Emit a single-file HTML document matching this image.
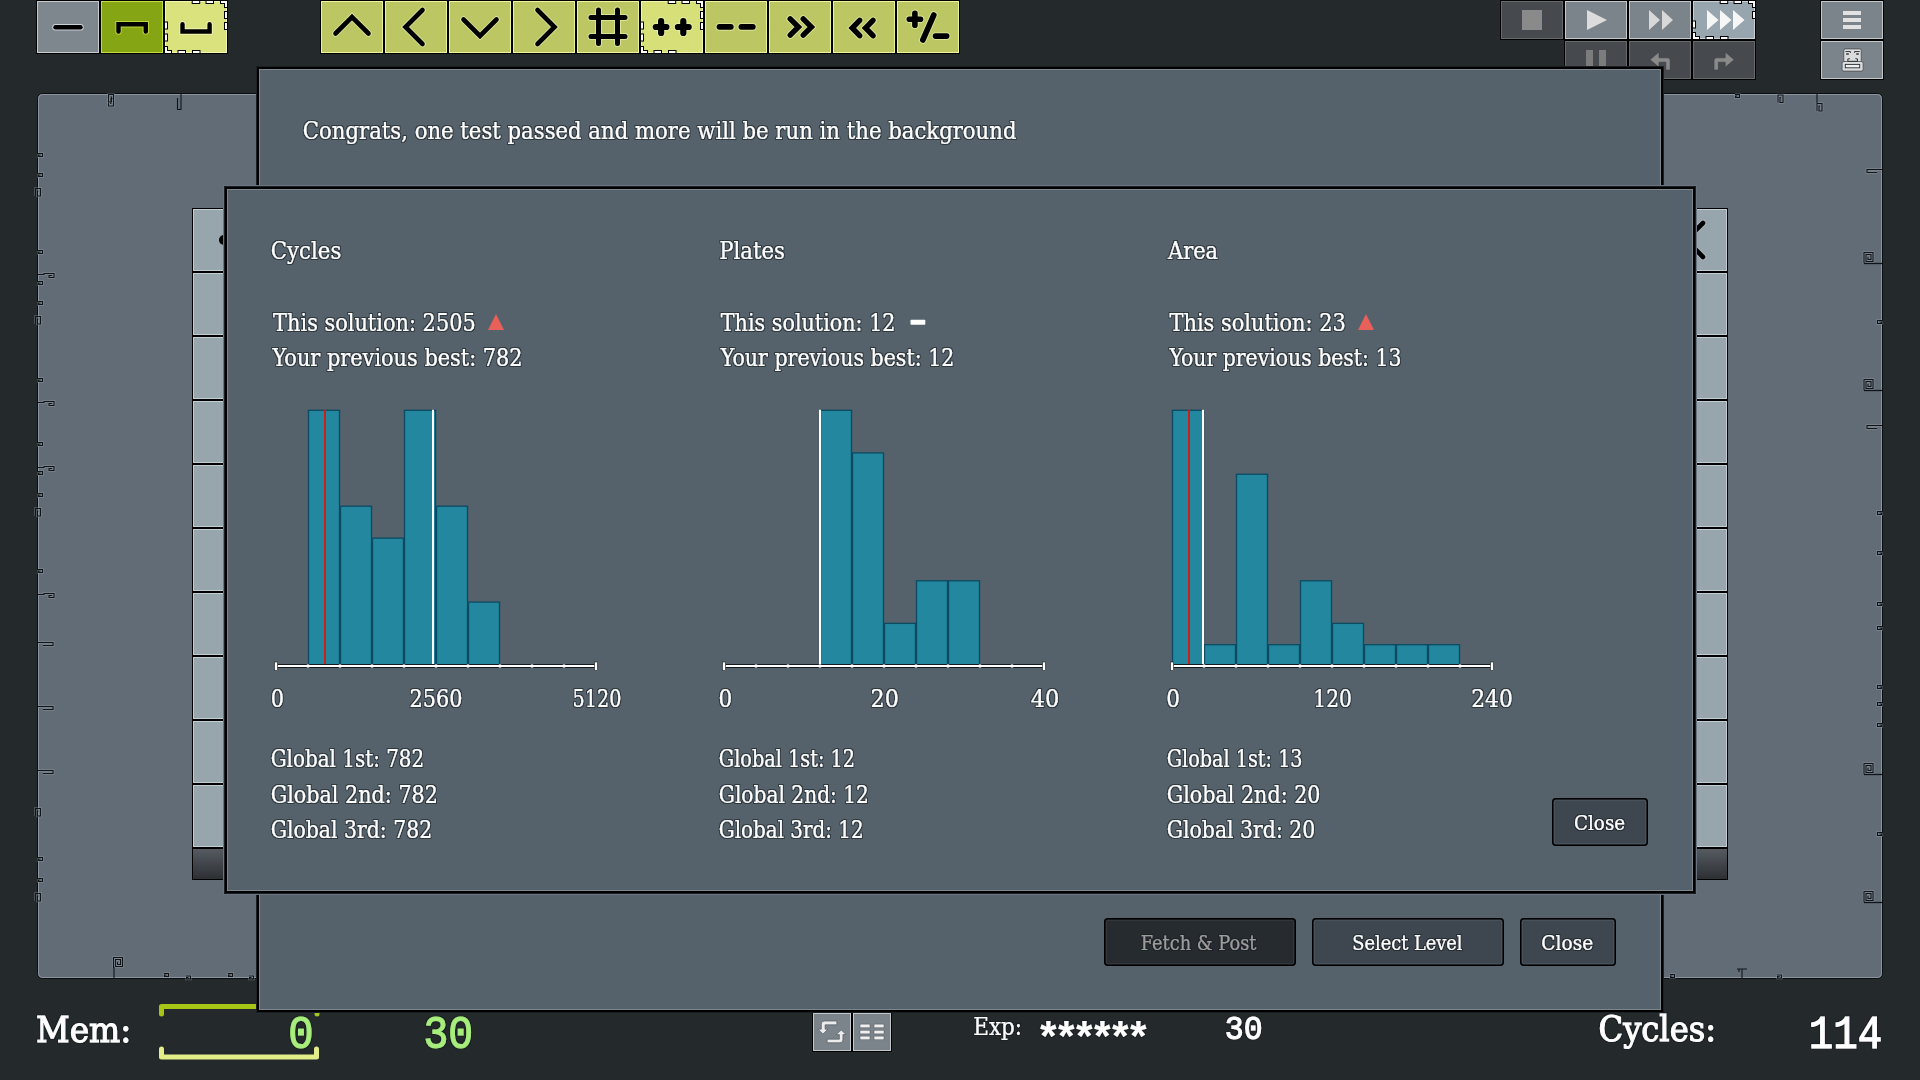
<!DOCTYPE html>
<html><head><meta charset="utf-8"><title>Level Complete</title>
<style>html,body{margin:0;padding:0;background:#24292c;width:1920px;height:1080px;overflow:hidden}</style>
</head><body>
<svg width="1920" height="1080" viewBox="0 0 1920 1080" style="position:absolute;left:0;top:0">
<defs><filter id="ol" x="-5%" y="-30%" width="110%" height="160%"><feMorphology in="SourceAlpha" operator="dilate" radius="1" result="d"/><feFlood flood-color="#161b20" flood-opacity="0.6"/><feComposite in2="d" operator="in"/><feMerge><feMergeNode/><feMergeNode in="SourceGraphic"/></feMerge></filter></defs>
<rect x="0" y="0" width="1920" height="1080" fill="#24292c" />
<rect x="36" y="0" width="64" height="54" fill="#000" />
<rect x="37" y="1" width="62" height="52" fill="#c6cbd0" />
<rect x="38" y="2" width="60" height="50" fill="#7e868e" />
<path d="M55.5 27.2 H80.5" fill="none" stroke="#e0e4e8" stroke-opacity="0.8" stroke-width="6.4" stroke-linecap="round" stroke-linejoin="round"/>
<path d="M55.5 27.2 H80.5" fill="none" stroke="#000" stroke-width="4.4" stroke-linecap="round" stroke-linejoin="round"/>
<rect x="100" y="0" width="64" height="54" fill="#000" />
<rect x="101" y="1" width="62" height="52" fill="#c4dc3c" />
<rect x="102" y="2" width="60" height="50" fill="#86a514" />
<path d="M118.5 31.6 V24.3 H145.8 V31.6" fill="none" stroke="#c8e040" stroke-opacity="0.8" stroke-width="6.4" stroke-linecap="round" stroke-linejoin="miter"/>
<path d="M118.5 31.6 V24.3 H145.8 V31.6" fill="none" stroke="#000" stroke-width="4.4" stroke-linecap="round" stroke-linejoin="miter"/>
<rect x="164" y="0" width="64" height="54" fill="#000" />
<rect x="165" y="1" width="62" height="52" fill="#f4f8b4" />
<rect x="166" y="2" width="60" height="50" fill="#d9e27c" />
<path d="M182.5 24.3 V31.5 H209.6 V24.3" fill="none" stroke="#f4f8c0" stroke-opacity="0.8" stroke-width="6.4" stroke-linecap="round" stroke-linejoin="miter"/>
<path d="M182.5 24.3 V31.5 H209.6 V24.3" fill="none" stroke="#000" stroke-width="4.4" stroke-linecap="round" stroke-linejoin="miter"/>
<rect x="220" y="0" width="8" height="4" fill="#000" />
<rect x="224" y="0" width="4" height="8" fill="#000" />
<rect x="164" y="50" width="8" height="4" fill="#000" />
<rect x="164" y="46" width="4" height="8" fill="#000" />
<rect x="221" y="1" width="6" height="2" fill="#fff" />
<rect x="225" y="1" width="2" height="6" fill="#fff" />
<rect x="165" y="51" width="6" height="2" fill="#fff" />
<rect x="165" y="47" width="2" height="6" fill="#fff" />
<rect x="205.5" y="0" width="8.5" height="4" fill="#000" />
<rect x="206.5" y="1" width="6.5" height="2" fill="#fff" />
<rect x="191.7" y="0" width="8.5" height="4" fill="#000" />
<rect x="192.7" y="1" width="6.5" height="2" fill="#fff" />
<rect x="224" y="11" width="4" height="8" fill="#000" />
<rect x="225" y="12" width="2" height="6" fill="#fff" />
<rect x="224" y="22" width="4" height="8" fill="#000" />
<rect x="225" y="23" width="2" height="6" fill="#fff" />
<rect x="164" y="33.5" width="4" height="8" fill="#000" />
<rect x="165" y="34.5" width="2" height="6" fill="#fff" />
<rect x="164" y="21.5" width="4" height="8" fill="#000" />
<rect x="165" y="22.5" width="2" height="6" fill="#fff" />
<rect x="177.5" y="50" width="8.5" height="4" fill="#000" />
<rect x="178.5" y="51" width="6.5" height="2" fill="#fff" />
<rect x="192" y="50" width="8.5" height="4" fill="#000" />
<rect x="193" y="51" width="6.5" height="2" fill="#fff" />
<rect x="320" y="0" width="64" height="54" fill="#000" />
<rect x="321" y="1" width="62" height="52" fill="#eef39c" />
<rect x="322" y="2" width="60" height="50" fill="#bcc763" />
<rect x="384" y="0" width="64" height="54" fill="#000" />
<rect x="385" y="1" width="62" height="52" fill="#eef39c" />
<rect x="386" y="2" width="60" height="50" fill="#bcc763" />
<rect x="448" y="0" width="64" height="54" fill="#000" />
<rect x="449" y="1" width="62" height="52" fill="#eef39c" />
<rect x="450" y="2" width="60" height="50" fill="#bcc763" />
<rect x="512" y="0" width="64" height="54" fill="#000" />
<rect x="513" y="1" width="62" height="52" fill="#eef39c" />
<rect x="514" y="2" width="60" height="50" fill="#bcc763" />
<rect x="576" y="0" width="64" height="54" fill="#000" />
<rect x="577" y="1" width="62" height="52" fill="#eef39c" />
<rect x="578" y="2" width="60" height="50" fill="#bcc763" />
<rect x="640" y="0" width="64" height="54" fill="#000" />
<rect x="641" y="1" width="62" height="52" fill="#f2f7b0" />
<rect x="642" y="2" width="60" height="50" fill="#d6df78" />
<rect x="704" y="0" width="64" height="54" fill="#000" />
<rect x="705" y="1" width="62" height="52" fill="#eef39c" />
<rect x="706" y="2" width="60" height="50" fill="#bcc763" />
<rect x="768" y="0" width="64" height="54" fill="#000" />
<rect x="769" y="1" width="62" height="52" fill="#eef39c" />
<rect x="770" y="2" width="60" height="50" fill="#bcc763" />
<rect x="832" y="0" width="64" height="54" fill="#000" />
<rect x="833" y="1" width="62" height="52" fill="#eef39c" />
<rect x="834" y="2" width="60" height="50" fill="#bcc763" />
<rect x="896" y="0" width="64" height="54" fill="#000" />
<rect x="897" y="1" width="62" height="52" fill="#eef39c" />
<rect x="898" y="2" width="60" height="50" fill="#bcc763" />
<path d="M335.5 33.5 L352 17 L368.5 33.5" fill="none" stroke="#f4f8c0" stroke-opacity="0.55" stroke-width="6.6" stroke-linecap="round" stroke-linejoin="miter"/>
<path d="M335.5 33.5 L352 17 L368.5 33.5" fill="none" stroke="#000" stroke-width="4.6" stroke-linecap="round" stroke-linejoin="miter"/>
<path d="M422.5 10 L405.5 27 L422.5 44" fill="none" stroke="#f4f8c0" stroke-opacity="0.55" stroke-width="6.6" stroke-linecap="round" stroke-linejoin="miter"/>
<path d="M422.5 10 L405.5 27 L422.5 44" fill="none" stroke="#000" stroke-width="4.6" stroke-linecap="round" stroke-linejoin="miter"/>
<path d="M463.5 19.5 L480 36 L496.5 19.5" fill="none" stroke="#f4f8c0" stroke-opacity="0.55" stroke-width="6.6" stroke-linecap="round" stroke-linejoin="miter"/>
<path d="M463.5 19.5 L480 36 L496.5 19.5" fill="none" stroke="#000" stroke-width="4.6" stroke-linecap="round" stroke-linejoin="miter"/>
<path d="M537.5 10 L554.5 27 L537.5 44" fill="none" stroke="#f4f8c0" stroke-opacity="0.55" stroke-width="6.6" stroke-linecap="round" stroke-linejoin="miter"/>
<path d="M537.5 10 L554.5 27 L537.5 44" fill="none" stroke="#000" stroke-width="4.6" stroke-linecap="round" stroke-linejoin="miter"/>
<path d="M598.5 10 V43.5 M617.5 10 V43.5 M591 17.5 H625 M591 36.5 H625" fill="none" stroke="#f4f8c0" stroke-opacity="0.55" stroke-width="7" stroke-linecap="round" stroke-linejoin="miter"/>
<path d="M598.5 10 V43.5 M617.5 10 V43.5 M591 17.5 H625 M591 36.5 H625" fill="none" stroke="#000" stroke-width="5" stroke-linecap="round" stroke-linejoin="miter"/>
<path d="M655.8 27 H666.4 M661.1 21.2 V32.9 M677.9 27 H688.7 M683.3 21.2 V32.9" fill="none" stroke="#f4f8c0" stroke-opacity="0.55" stroke-width="8.2" stroke-linecap="round" stroke-linejoin="round"/>
<path d="M655.8 27 H666.4 M661.1 21.2 V32.9 M677.9 27 H688.7 M683.3 21.2 V32.9" fill="none" stroke="#000" stroke-width="6.2" stroke-linecap="round" stroke-linejoin="round"/>
<path d="M719.5 26.8 H730.8 M741.4 26.8 H752.8" fill="none" stroke="#f4f8c0" stroke-opacity="0.55" stroke-width="7.8" stroke-linecap="round" stroke-linejoin="miter"/>
<path d="M719.5 26.8 H730.8 M741.4 26.8 H752.8" fill="none" stroke="#000" stroke-width="5.8" stroke-linecap="round" stroke-linejoin="miter"/>
<rect x="696" y="0" width="8" height="4" fill="#000" />
<rect x="700" y="0" width="4" height="8" fill="#000" />
<rect x="640" y="50" width="8" height="4" fill="#000" />
<rect x="640" y="46" width="4" height="8" fill="#000" />
<rect x="697" y="1" width="6" height="2" fill="#fff" />
<rect x="701" y="1" width="2" height="6" fill="#fff" />
<rect x="641" y="51" width="6" height="2" fill="#fff" />
<rect x="641" y="47" width="2" height="6" fill="#fff" />
<rect x="681.5" y="0" width="8.5" height="4" fill="#000" />
<rect x="682.5" y="1" width="6.5" height="2" fill="#fff" />
<rect x="667.7" y="0" width="8.5" height="4" fill="#000" />
<rect x="668.7" y="1" width="6.5" height="2" fill="#fff" />
<rect x="700" y="11" width="4" height="8" fill="#000" />
<rect x="701" y="12" width="2" height="6" fill="#fff" />
<rect x="700" y="22" width="4" height="8" fill="#000" />
<rect x="701" y="23" width="2" height="6" fill="#fff" />
<rect x="640" y="33.5" width="4" height="8" fill="#000" />
<rect x="641" y="34.5" width="2" height="6" fill="#fff" />
<rect x="640" y="21.5" width="4" height="8" fill="#000" />
<rect x="641" y="22.5" width="2" height="6" fill="#fff" />
<rect x="653.5" y="50" width="8.5" height="4" fill="#000" />
<rect x="654.5" y="51" width="6.5" height="2" fill="#fff" />
<rect x="668" y="50" width="8.5" height="4" fill="#000" />
<rect x="669" y="51" width="6.5" height="2" fill="#fff" />
<path d="M790.2 18.8 L798.4 27 L790.2 35.2 M803.2 18.8 L811.4 27 L803.2 35.2" fill="none" stroke="#f4f8c0" stroke-opacity="0.55" stroke-width="7.4" stroke-linecap="round" stroke-linejoin="miter"/>
<path d="M790.2 18.8 L798.4 27 L790.2 35.2 M803.2 18.8 L811.4 27 L803.2 35.2" fill="none" stroke="#000" stroke-width="5.4" stroke-linecap="round" stroke-linejoin="miter"/>
<path d="M859.7 20.3 L852.2 28 L859.7 35.7 M873 20.3 L865.5 28 L873 35.7" fill="none" stroke="#f4f8c0" stroke-opacity="0.55" stroke-width="7.4" stroke-linecap="round" stroke-linejoin="miter"/>
<path d="M859.7 20.3 L852.2 28 L859.7 35.7 M873 20.3 L865.5 28 L873 35.7" fill="none" stroke="#000" stroke-width="5.4" stroke-linecap="round" stroke-linejoin="miter"/>
<path d="M909.3 19.2 H920.5 M914.9 13.3 V25.2 M933.8 15 L922.8 40 M935.5 36.1 H946.7" fill="none" stroke="#f4f8c0" stroke-opacity="0.55" stroke-width="7.6" stroke-linecap="round" stroke-linejoin="round"/>
<path d="M909.3 19.2 H920.5 M914.9 13.3 V25.2 M933.8 15 L922.8 40 M935.5 36.1 H946.7" fill="none" stroke="#000" stroke-width="5.6" stroke-linecap="round" stroke-linejoin="round"/>
<rect x="1500" y="0" width="64" height="40" fill="#000" />
<rect x="1501" y="1" width="62" height="38" fill="#65696d" />
<rect x="1502" y="2" width="60" height="36" fill="#46494d" />
<rect x="1522" y="10" width="20" height="20" fill="#8a8a8a" />
<rect x="1564" y="0" width="64" height="40" fill="#000" />
<rect x="1565" y="1" width="62" height="38" fill="#c3c8cc" />
<rect x="1566" y="2" width="60" height="36" fill="#7b838b" />
<path d="M1587 10 L1607 20 L1587 30 Z" fill="#dcdcdc"/>
<rect x="1628" y="0" width="64" height="40" fill="#000" />
<rect x="1629" y="1" width="62" height="38" fill="#c3c8cc" />
<rect x="1630" y="2" width="60" height="36" fill="#7b838b" />
<path d="M1649 10 L1660 20 L1649 30 Z M1662 10 L1673 20 L1662 30 Z" fill="#d8d8d8"/>
<rect x="1692" y="0" width="64" height="40" fill="#000" />
<rect x="1693" y="1" width="62" height="38" fill="#c9d0d6" />
<rect x="1694" y="2" width="60" height="36" fill="#97a5ae" />
<path d="M1707 10 L1718.5 20 L1707 30 Z M1720 10 L1731.5 20 L1720 30 Z M1733 10 L1744.5 20 L1733 30 Z" fill="#f6f6f6"/>
<rect x="1748" y="0" width="8" height="4" fill="#000" />
<rect x="1752" y="0" width="4" height="8" fill="#000" />
<rect x="1692" y="36" width="8" height="4" fill="#000" />
<rect x="1692" y="32" width="4" height="8" fill="#000" />
<rect x="1749" y="1" width="6" height="2" fill="#fff" />
<rect x="1753" y="1" width="2" height="6" fill="#fff" />
<rect x="1693" y="37" width="6" height="2" fill="#fff" />
<rect x="1693" y="33" width="2" height="6" fill="#fff" />
<rect x="1733.5" y="0" width="8.5" height="4" fill="#000" />
<rect x="1734.5" y="1" width="6.5" height="2" fill="#fff" />
<rect x="1719.7" y="0" width="8.5" height="4" fill="#000" />
<rect x="1720.7" y="1" width="6.5" height="2" fill="#fff" />
<rect x="1752" y="11" width="4" height="8" fill="#000" />
<rect x="1753" y="12" width="2" height="6" fill="#fff" />
<rect x="1692" y="20.5" width="4" height="8" fill="#000" />
<rect x="1693" y="21.5" width="2" height="6" fill="#fff" />
<rect x="1705.5" y="36" width="8.5" height="4" fill="#000" />
<rect x="1706.5" y="37" width="6.5" height="2" fill="#fff" />
<rect x="1720" y="36" width="8.5" height="4" fill="#000" />
<rect x="1721" y="37" width="6.5" height="2" fill="#fff" />
<rect x="1564" y="40" width="64" height="40" fill="#000" />
<rect x="1565" y="41" width="62" height="38" fill="#65696d" />
<rect x="1566" y="42" width="60" height="36" fill="#46494d" />
<rect x="1628" y="40" width="64" height="40" fill="#000" />
<rect x="1629" y="41" width="62" height="38" fill="#65696d" />
<rect x="1630" y="42" width="60" height="36" fill="#46494d" />
<rect x="1692" y="40" width="64" height="40" fill="#000" />
<rect x="1693" y="41" width="62" height="38" fill="#65696d" />
<rect x="1694" y="42" width="60" height="36" fill="#46494d" />
<rect x="1586" y="50" width="7" height="20" fill="#7c7c7c" />
<rect x="1599" y="50" width="7" height="20" fill="#7c7c7c" />
<path d="M1650 59.7 L1659 52 V57.8 H1667.5 Q1670.2 57.8 1670.2 60.5 V70 H1665.8 V62.2 H1659 V67.3 Z" fill="#8a8a8a" stroke="#3a3d40" stroke-width="0.6"/>
<path d="M1734.2 59.7 L1725.2 52 V57.8 H1716.7 Q1714 57.8 1714 60.5 V70 H1718.4 V62.2 H1725.2 V67.3 Z" fill="#8a8a8a" stroke="#3a3d40" stroke-width="0.6"/>
<rect x="1820" y="0" width="64" height="40" fill="#000" />
<rect x="1821" y="1" width="62" height="38" fill="#c3c8cc" />
<rect x="1822" y="2" width="60" height="36" fill="#7b838b" />
<rect x="1843" y="11" width="18" height="4" fill="#e2e2e2" />
<rect x="1843" y="18" width="18" height="4" fill="#e2e2e2" />
<rect x="1843" y="25" width="18" height="4" fill="#e2e2e2" />
<rect x="1820" y="40" width="64" height="40" fill="#000" />
<rect x="1821" y="41" width="62" height="38" fill="#c3c8cc" />
<rect x="1822" y="42" width="60" height="36" fill="#7b838b" />
<rect x="1843.8" y="48.9" width="17.4" height="13.5" rx="1.5" fill="#d9dbdd" stroke="#3c4044" stroke-width="0.7"/>
<rect x="1842.1" y="61.5" width="21" height="9.6" rx="1.8" fill="#d9dbdd" stroke="#3c4044" stroke-width="0.7"/>
<path d="M1845.4 51.5 H1850.4 V52.9 M1859.7 51.5 H1854.6 V52.9" stroke="#2a2d30" stroke-width="0.9" fill="none"/>
<rect x="1846.2" y="53.3" width="2.6" height="1.4" fill="#2a2d30" />
<rect x="1856.2" y="53.3" width="2.6" height="1.4" fill="#2a2d30" />
<path d="M1849.4 58.2 V58.9 H1847.8 V61.3 H1857.5 V58.9 H1855.8 V58.2" stroke="#2a2d30" stroke-width="0.9" fill="none"/>
<rect x="1845.3" y="64.4" width="14.4" height="3.4" fill="#eef0f4" stroke="#2a2d30" stroke-width="0.9"/>
<rect x="37.5" y="93.5" width="1845" height="885" rx="5" fill="#626c77" stroke="#0b0e11" stroke-width="1"/>
<rect x="38.5" y="94.5" width="1843" height="883" rx="4" fill="none" stroke="#8c959f" stroke-width="1"/>
<path d="M0 0.5 H4.5 V3.5 H0.5 V2 H2.5" transform="translate(38 153) rotate(0) scale(1 1)" fill="none" stroke="#9aa3ac" stroke-opacity="0.45" stroke-width="2.6" stroke-linejoin="miter"/>
<path d="M0 0.5 H4.5 V3.5 H0.5 V2 H2.5" transform="translate(38 153) rotate(0) scale(1 1)" fill="none" stroke="#111417" stroke-width="1.1" stroke-linejoin="miter"/>
<path d="M0 0.5 H4.5 V3.5 H0.5 V2 H2.5" transform="translate(38 173) rotate(0) scale(1 1)" fill="none" stroke="#9aa3ac" stroke-opacity="0.45" stroke-width="2.6" stroke-linejoin="miter"/>
<path d="M0 0.5 H4.5 V3.5 H0.5 V2 H2.5" transform="translate(38 173) rotate(0) scale(1 1)" fill="none" stroke="#111417" stroke-width="1.1" stroke-linejoin="miter"/>
<path d="M0 0.5 H4.5 V3.5 H0.5 V2 H2.5" transform="translate(38 250) rotate(0) scale(1 1)" fill="none" stroke="#9aa3ac" stroke-opacity="0.45" stroke-width="2.6" stroke-linejoin="miter"/>
<path d="M0 0.5 H4.5 V3.5 H0.5 V2 H2.5" transform="translate(38 250) rotate(0) scale(1 1)" fill="none" stroke="#111417" stroke-width="1.1" stroke-linejoin="miter"/>
<path d="M0 0.5 H4.5 V3.5 H0.5 V2 H2.5" transform="translate(38 281) rotate(0) scale(1 1)" fill="none" stroke="#9aa3ac" stroke-opacity="0.45" stroke-width="2.6" stroke-linejoin="miter"/>
<path d="M0 0.5 H4.5 V3.5 H0.5 V2 H2.5" transform="translate(38 281) rotate(0) scale(1 1)" fill="none" stroke="#111417" stroke-width="1.1" stroke-linejoin="miter"/>
<path d="M0 0.5 H4.5 V3.5 H0.5 V2 H2.5" transform="translate(38 301) rotate(0) scale(1 1)" fill="none" stroke="#9aa3ac" stroke-opacity="0.45" stroke-width="2.6" stroke-linejoin="miter"/>
<path d="M0 0.5 H4.5 V3.5 H0.5 V2 H2.5" transform="translate(38 301) rotate(0) scale(1 1)" fill="none" stroke="#111417" stroke-width="1.1" stroke-linejoin="miter"/>
<path d="M0 0.5 H4.5 V3.5 H0.5 V2 H2.5" transform="translate(38 378) rotate(0) scale(1 1)" fill="none" stroke="#9aa3ac" stroke-opacity="0.45" stroke-width="2.6" stroke-linejoin="miter"/>
<path d="M0 0.5 H4.5 V3.5 H0.5 V2 H2.5" transform="translate(38 378) rotate(0) scale(1 1)" fill="none" stroke="#111417" stroke-width="1.1" stroke-linejoin="miter"/>
<path d="M0 0.5 H4.5 V3.5 H0.5 V2 H2.5" transform="translate(38 442) rotate(0) scale(1 1)" fill="none" stroke="#9aa3ac" stroke-opacity="0.45" stroke-width="2.6" stroke-linejoin="miter"/>
<path d="M0 0.5 H4.5 V3.5 H0.5 V2 H2.5" transform="translate(38 442) rotate(0) scale(1 1)" fill="none" stroke="#111417" stroke-width="1.1" stroke-linejoin="miter"/>
<path d="M0 0.5 H4.5 V3.5 H0.5 V2 H2.5" transform="translate(38 471) rotate(0) scale(1 1)" fill="none" stroke="#9aa3ac" stroke-opacity="0.45" stroke-width="2.6" stroke-linejoin="miter"/>
<path d="M0 0.5 H4.5 V3.5 H0.5 V2 H2.5" transform="translate(38 471) rotate(0) scale(1 1)" fill="none" stroke="#111417" stroke-width="1.1" stroke-linejoin="miter"/>
<path d="M0 0.5 H4.5 V3.5 H0.5 V2 H2.5" transform="translate(38 493) rotate(0) scale(1 1)" fill="none" stroke="#9aa3ac" stroke-opacity="0.45" stroke-width="2.6" stroke-linejoin="miter"/>
<path d="M0 0.5 H4.5 V3.5 H0.5 V2 H2.5" transform="translate(38 493) rotate(0) scale(1 1)" fill="none" stroke="#111417" stroke-width="1.1" stroke-linejoin="miter"/>
<path d="M0 0.5 H4.5 V3.5 H0.5 V2 H2.5" transform="translate(38 569) rotate(0) scale(1 1)" fill="none" stroke="#9aa3ac" stroke-opacity="0.45" stroke-width="2.6" stroke-linejoin="miter"/>
<path d="M0 0.5 H4.5 V3.5 H0.5 V2 H2.5" transform="translate(38 569) rotate(0) scale(1 1)" fill="none" stroke="#111417" stroke-width="1.1" stroke-linejoin="miter"/>
<path d="M0 0.5 H4.5 V3.5 H0.5 V2 H2.5" transform="translate(38 857) rotate(0) scale(1 1)" fill="none" stroke="#9aa3ac" stroke-opacity="0.45" stroke-width="2.6" stroke-linejoin="miter"/>
<path d="M0 0.5 H4.5 V3.5 H0.5 V2 H2.5" transform="translate(38 857) rotate(0) scale(1 1)" fill="none" stroke="#111417" stroke-width="1.1" stroke-linejoin="miter"/>
<path d="M0 0.5 H4.5 V3.5 H0.5 V2 H2.5" transform="translate(38 878) rotate(0) scale(1 1)" fill="none" stroke="#9aa3ac" stroke-opacity="0.45" stroke-width="2.6" stroke-linejoin="miter"/>
<path d="M0 0.5 H4.5 V3.5 H0.5 V2 H2.5" transform="translate(38 878) rotate(0) scale(1 1)" fill="none" stroke="#111417" stroke-width="1.1" stroke-linejoin="miter"/>
<path d="M0 1.5 H6 V0.5 H16 V4.5 H11 V2.5 H14" transform="translate(38 273) rotate(0) scale(1 1)" fill="none" stroke="#9aa3ac" stroke-opacity="0.45" stroke-width="2.6" stroke-linejoin="miter"/>
<path d="M0 1.5 H6 V0.5 H16 V4.5 H11 V2.5 H14" transform="translate(38 273) rotate(0) scale(1 1)" fill="none" stroke="#111417" stroke-width="1.1" stroke-linejoin="miter"/>
<path d="M0 1.5 H6 V0.5 H16 V4.5 H11 V2.5 H14" transform="translate(38 401) rotate(0) scale(1 1)" fill="none" stroke="#9aa3ac" stroke-opacity="0.45" stroke-width="2.6" stroke-linejoin="miter"/>
<path d="M0 1.5 H6 V0.5 H16 V4.5 H11 V2.5 H14" transform="translate(38 401) rotate(0) scale(1 1)" fill="none" stroke="#111417" stroke-width="1.1" stroke-linejoin="miter"/>
<path d="M0 1.5 H6 V0.5 H16 V4.5 H11 V2.5 H14" transform="translate(38 466) rotate(0) scale(1 1)" fill="none" stroke="#9aa3ac" stroke-opacity="0.45" stroke-width="2.6" stroke-linejoin="miter"/>
<path d="M0 1.5 H6 V0.5 H16 V4.5 H11 V2.5 H14" transform="translate(38 466) rotate(0) scale(1 1)" fill="none" stroke="#111417" stroke-width="1.1" stroke-linejoin="miter"/>
<path d="M0 1.5 H6 V0.5 H16 V4.5 H11 V2.5 H14" transform="translate(38 593) rotate(0) scale(1 1)" fill="none" stroke="#9aa3ac" stroke-opacity="0.45" stroke-width="2.6" stroke-linejoin="miter"/>
<path d="M0 1.5 H6 V0.5 H16 V4.5 H11 V2.5 H14" transform="translate(38 593) rotate(0) scale(1 1)" fill="none" stroke="#111417" stroke-width="1.1" stroke-linejoin="miter"/>
<path d="M0 0.5 H15 V3.5 H5" transform="translate(38 642) rotate(0) scale(1 1)" fill="none" stroke="#9aa3ac" stroke-opacity="0.45" stroke-width="2.6" stroke-linejoin="miter"/>
<path d="M0 0.5 H15 V3.5 H5" transform="translate(38 642) rotate(0) scale(1 1)" fill="none" stroke="#111417" stroke-width="1.1" stroke-linejoin="miter"/>
<path d="M0 0.5 H15 V3.5 H5" transform="translate(38 706) rotate(0) scale(1 1)" fill="none" stroke="#9aa3ac" stroke-opacity="0.45" stroke-width="2.6" stroke-linejoin="miter"/>
<path d="M0 0.5 H15 V3.5 H5" transform="translate(38 706) rotate(0) scale(1 1)" fill="none" stroke="#111417" stroke-width="1.1" stroke-linejoin="miter"/>
<path d="M0 0.5 H15 V3.5 H5" transform="translate(38 770) rotate(0) scale(1 1)" fill="none" stroke="#9aa3ac" stroke-opacity="0.45" stroke-width="2.6" stroke-linejoin="miter"/>
<path d="M0 0.5 H15 V3.5 H5" transform="translate(38 770) rotate(0) scale(1 1)" fill="none" stroke="#111417" stroke-width="1.1" stroke-linejoin="miter"/>
<path d="M0 8 V0.5 H5 V8 H2 V3 H3" transform="translate(35.5 188) rotate(0) scale(1 1)" fill="none" stroke="#9aa3ac" stroke-opacity="0.45" stroke-width="2.6" stroke-linejoin="miter"/>
<path d="M0 8 V0.5 H5 V8 H2 V3 H3" transform="translate(35.5 188) rotate(0) scale(1 1)" fill="none" stroke="#111417" stroke-width="1.1" stroke-linejoin="miter"/>
<path d="M0 8 V0.5 H5 V8 H2 V3 H3" transform="translate(35.5 316) rotate(0) scale(1 1)" fill="none" stroke="#9aa3ac" stroke-opacity="0.45" stroke-width="2.6" stroke-linejoin="miter"/>
<path d="M0 8 V0.5 H5 V8 H2 V3 H3" transform="translate(35.5 316) rotate(0) scale(1 1)" fill="none" stroke="#111417" stroke-width="1.1" stroke-linejoin="miter"/>
<path d="M0 8 V0.5 H5 V8 H2 V3 H3" transform="translate(35.5 508) rotate(0) scale(1 1)" fill="none" stroke="#9aa3ac" stroke-opacity="0.45" stroke-width="2.6" stroke-linejoin="miter"/>
<path d="M0 8 V0.5 H5 V8 H2 V3 H3" transform="translate(35.5 508) rotate(0) scale(1 1)" fill="none" stroke="#111417" stroke-width="1.1" stroke-linejoin="miter"/>
<path d="M0 8 V0.5 H5 V8 H2 V3 H3" transform="translate(35.5 808) rotate(0) scale(1 1)" fill="none" stroke="#9aa3ac" stroke-opacity="0.45" stroke-width="2.6" stroke-linejoin="miter"/>
<path d="M0 8 V0.5 H5 V8 H2 V3 H3" transform="translate(35.5 808) rotate(0) scale(1 1)" fill="none" stroke="#111417" stroke-width="1.1" stroke-linejoin="miter"/>
<path d="M0 8 V0.5 H5 V8 H2 V3 H3" transform="translate(35.5 893) rotate(0) scale(1 1)" fill="none" stroke="#9aa3ac" stroke-opacity="0.45" stroke-width="2.6" stroke-linejoin="miter"/>
<path d="M0 8 V0.5 H5 V8 H2 V3 H3" transform="translate(35.5 893) rotate(0) scale(1 1)" fill="none" stroke="#111417" stroke-width="1.1" stroke-linejoin="miter"/>
<path d="M0 0.5 H4.5 V3.5 H0.5 V2 H2.5" transform="translate(1882 320) rotate(0) scale(-1 1)" fill="none" stroke="#9aa3ac" stroke-opacity="0.45" stroke-width="2.6" stroke-linejoin="miter"/>
<path d="M0 0.5 H4.5 V3.5 H0.5 V2 H2.5" transform="translate(1882 320) rotate(0) scale(-1 1)" fill="none" stroke="#111417" stroke-width="1.1" stroke-linejoin="miter"/>
<path d="M0 0.5 H4.5 V3.5 H0.5 V2 H2.5" transform="translate(1882 511) rotate(0) scale(-1 1)" fill="none" stroke="#9aa3ac" stroke-opacity="0.45" stroke-width="2.6" stroke-linejoin="miter"/>
<path d="M0 0.5 H4.5 V3.5 H0.5 V2 H2.5" transform="translate(1882 511) rotate(0) scale(-1 1)" fill="none" stroke="#111417" stroke-width="1.1" stroke-linejoin="miter"/>
<path d="M0 0.5 H4.5 V3.5 H0.5 V2 H2.5" transform="translate(1882 551) rotate(0) scale(-1 1)" fill="none" stroke="#9aa3ac" stroke-opacity="0.45" stroke-width="2.6" stroke-linejoin="miter"/>
<path d="M0 0.5 H4.5 V3.5 H0.5 V2 H2.5" transform="translate(1882 551) rotate(0) scale(-1 1)" fill="none" stroke="#111417" stroke-width="1.1" stroke-linejoin="miter"/>
<path d="M0 0.5 H4.5 V3.5 H0.5 V2 H2.5" transform="translate(1882 602) rotate(0) scale(-1 1)" fill="none" stroke="#9aa3ac" stroke-opacity="0.45" stroke-width="2.6" stroke-linejoin="miter"/>
<path d="M0 0.5 H4.5 V3.5 H0.5 V2 H2.5" transform="translate(1882 602) rotate(0) scale(-1 1)" fill="none" stroke="#111417" stroke-width="1.1" stroke-linejoin="miter"/>
<path d="M0 0.5 H4.5 V3.5 H0.5 V2 H2.5" transform="translate(1882 626) rotate(0) scale(-1 1)" fill="none" stroke="#9aa3ac" stroke-opacity="0.45" stroke-width="2.6" stroke-linejoin="miter"/>
<path d="M0 0.5 H4.5 V3.5 H0.5 V2 H2.5" transform="translate(1882 626) rotate(0) scale(-1 1)" fill="none" stroke="#111417" stroke-width="1.1" stroke-linejoin="miter"/>
<path d="M0 0.5 H4.5 V3.5 H0.5 V2 H2.5" transform="translate(1882 685) rotate(0) scale(-1 1)" fill="none" stroke="#9aa3ac" stroke-opacity="0.45" stroke-width="2.6" stroke-linejoin="miter"/>
<path d="M0 0.5 H4.5 V3.5 H0.5 V2 H2.5" transform="translate(1882 685) rotate(0) scale(-1 1)" fill="none" stroke="#111417" stroke-width="1.1" stroke-linejoin="miter"/>
<path d="M0 0.5 H4.5 V3.5 H0.5 V2 H2.5" transform="translate(1882 702) rotate(0) scale(-1 1)" fill="none" stroke="#9aa3ac" stroke-opacity="0.45" stroke-width="2.6" stroke-linejoin="miter"/>
<path d="M0 0.5 H4.5 V3.5 H0.5 V2 H2.5" transform="translate(1882 702) rotate(0) scale(-1 1)" fill="none" stroke="#111417" stroke-width="1.1" stroke-linejoin="miter"/>
<path d="M0 0.5 H4.5 V3.5 H0.5 V2 H2.5" transform="translate(1882 723) rotate(0) scale(-1 1)" fill="none" stroke="#9aa3ac" stroke-opacity="0.45" stroke-width="2.6" stroke-linejoin="miter"/>
<path d="M0 0.5 H4.5 V3.5 H0.5 V2 H2.5" transform="translate(1882 723) rotate(0) scale(-1 1)" fill="none" stroke="#111417" stroke-width="1.1" stroke-linejoin="miter"/>
<path d="M0 0.5 H4.5 V3.5 H0.5 V2 H2.5" transform="translate(1882 832) rotate(0) scale(-1 1)" fill="none" stroke="#9aa3ac" stroke-opacity="0.45" stroke-width="2.6" stroke-linejoin="miter"/>
<path d="M0 0.5 H4.5 V3.5 H0.5 V2 H2.5" transform="translate(1882 832) rotate(0) scale(-1 1)" fill="none" stroke="#111417" stroke-width="1.1" stroke-linejoin="miter"/>
<path d="M0 0.5 H15 V3.5 H5" transform="translate(1882 169) rotate(0) scale(-1 1)" fill="none" stroke="#9aa3ac" stroke-opacity="0.45" stroke-width="2.6" stroke-linejoin="miter"/>
<path d="M0 0.5 H15 V3.5 H5" transform="translate(1882 169) rotate(0) scale(-1 1)" fill="none" stroke="#111417" stroke-width="1.1" stroke-linejoin="miter"/>
<path d="M0 0.5 H15 V3.5 H5" transform="translate(1882 425) rotate(0) scale(-1 1)" fill="none" stroke="#9aa3ac" stroke-opacity="0.45" stroke-width="2.6" stroke-linejoin="miter"/>
<path d="M0 0.5 H15 V3.5 H5" transform="translate(1882 425) rotate(0) scale(-1 1)" fill="none" stroke="#111417" stroke-width="1.1" stroke-linejoin="miter"/>
<path d="M0.5 11 V0.5 H9.5 V9.5 H2.5 V2.5 H7.5 V7.5 H4.5 V5" transform="translate(1863.5 252) rotate(0) scale(1 1)" fill="none" stroke="#9aa3ac" stroke-opacity="0.45" stroke-width="2.6" stroke-linejoin="miter"/>
<path d="M0.5 11 V0.5 H9.5 V9.5 H2.5 V2.5 H7.5 V7.5 H4.5 V5" transform="translate(1863.5 252) rotate(0) scale(1 1)" fill="none" stroke="#111417" stroke-width="1.1" stroke-linejoin="miter"/>
<path d="M1864 263.5 H1882" stroke="#111417" stroke-width="1.3"/>
<path d="M0.5 11 V0.5 H9.5 V9.5 H2.5 V2.5 H7.5 V7.5 H4.5 V5" transform="translate(1863.5 379) rotate(0) scale(1 1)" fill="none" stroke="#9aa3ac" stroke-opacity="0.45" stroke-width="2.6" stroke-linejoin="miter"/>
<path d="M0.5 11 V0.5 H9.5 V9.5 H2.5 V2.5 H7.5 V7.5 H4.5 V5" transform="translate(1863.5 379) rotate(0) scale(1 1)" fill="none" stroke="#111417" stroke-width="1.1" stroke-linejoin="miter"/>
<path d="M1864 390.5 H1882" stroke="#111417" stroke-width="1.3"/>
<path d="M0.5 11 V0.5 H9.5 V9.5 H2.5 V2.5 H7.5 V7.5 H4.5 V5" transform="translate(1863.5 763) rotate(0) scale(1 1)" fill="none" stroke="#9aa3ac" stroke-opacity="0.45" stroke-width="2.6" stroke-linejoin="miter"/>
<path d="M0.5 11 V0.5 H9.5 V9.5 H2.5 V2.5 H7.5 V7.5 H4.5 V5" transform="translate(1863.5 763) rotate(0) scale(1 1)" fill="none" stroke="#111417" stroke-width="1.1" stroke-linejoin="miter"/>
<path d="M1864 774.5 H1882" stroke="#111417" stroke-width="1.3"/>
<path d="M0.5 11 V0.5 H9.5 V9.5 H2.5 V2.5 H7.5 V7.5 H4.5 V5" transform="translate(1863.5 891) rotate(0) scale(1 1)" fill="none" stroke="#9aa3ac" stroke-opacity="0.45" stroke-width="2.6" stroke-linejoin="miter"/>
<path d="M0.5 11 V0.5 H9.5 V9.5 H2.5 V2.5 H7.5 V7.5 H4.5 V5" transform="translate(1863.5 891) rotate(0) scale(1 1)" fill="none" stroke="#111417" stroke-width="1.1" stroke-linejoin="miter"/>
<path d="M1864 902.5 H1882" stroke="#111417" stroke-width="1.3"/>
<path d="M0 8 V0.5 H5 V8 H2 V3 H3" transform="translate(108.5 106.5) rotate(0) scale(1 -1)" fill="none" stroke="#9aa3ac" stroke-opacity="0.45" stroke-width="2.6" stroke-linejoin="miter"/>
<path d="M0 8 V0.5 H5 V8 H2 V3 H3" transform="translate(108.5 106.5) rotate(0) scale(1 -1)" fill="none" stroke="#111417" stroke-width="1.1" stroke-linejoin="miter"/>
<path d="M0 8 V0.5 H5 V8 H2 V3 H3" transform="translate(113.5 94) rotate(0) scale(-1 1)" fill="none" stroke="#9aa3ac" stroke-opacity="0.45" stroke-width="2.6" stroke-linejoin="miter"/>
<path d="M0 8 V0.5 H5 V8 H2 V3 H3" transform="translate(113.5 94) rotate(0) scale(-1 1)" fill="none" stroke="#111417" stroke-width="1.1" stroke-linejoin="miter"/>
<path d="M181 94 V109.5 H177.5 V98" fill="none" stroke="#111417" stroke-width="1.1"/>
<path d="M0 0.5 H4.5 V3.5 H0.5 V2 H2.5" transform="translate(1735 94) rotate(0) scale(1 1)" fill="none" stroke="#9aa3ac" stroke-opacity="0.45" stroke-width="2.6" stroke-linejoin="miter"/>
<path d="M0 0.5 H4.5 V3.5 H0.5 V2 H2.5" transform="translate(1735 94) rotate(0) scale(1 1)" fill="none" stroke="#111417" stroke-width="1.1" stroke-linejoin="miter"/>
<path d="M0 8 V0.5 H5 V8 H2 V3 H3" transform="translate(1778 94.5) rotate(0) scale(1 1)" fill="none" stroke="#9aa3ac" stroke-opacity="0.45" stroke-width="2.6" stroke-linejoin="miter"/>
<path d="M0 8 V0.5 H5 V8 H2 V3 H3" transform="translate(1778 94.5) rotate(0) scale(1 1)" fill="none" stroke="#111417" stroke-width="1.1" stroke-linejoin="miter"/>
<path d="M0 8 V0.5 H5 V8 H2 V3 H3" transform="translate(1817 103) rotate(0) scale(1 1)" fill="none" stroke="#9aa3ac" stroke-opacity="0.45" stroke-width="2.6" stroke-linejoin="miter"/>
<path d="M0 8 V0.5 H5 V8 H2 V3 H3" transform="translate(1817 103) rotate(0) scale(1 1)" fill="none" stroke="#111417" stroke-width="1.1" stroke-linejoin="miter"/>
<path d="M1817 94 V103" stroke="#111417" stroke-width="1.1"/>
<path d="M0.5 11 V0.5 H9.5 V9.5 H2.5 V2.5 H7.5 V7.5 H4.5 V5" transform="translate(113 957) rotate(0) scale(1 1)" fill="none" stroke="#9aa3ac" stroke-opacity="0.45" stroke-width="2.6" stroke-linejoin="miter"/>
<path d="M0.5 11 V0.5 H9.5 V9.5 H2.5 V2.5 H7.5 V7.5 H4.5 V5" transform="translate(113 957) rotate(0) scale(1 1)" fill="none" stroke="#111417" stroke-width="1.1" stroke-linejoin="miter"/>
<path d="M114 967 V978" stroke="#111417" stroke-width="1.1"/>
<path d="M0 0.5 H4.5 V3.5 H0.5 V2 H2.5" transform="translate(164 973) rotate(0) scale(1 1)" fill="none" stroke="#9aa3ac" stroke-opacity="0.45" stroke-width="2.6" stroke-linejoin="miter"/>
<path d="M0 0.5 H4.5 V3.5 H0.5 V2 H2.5" transform="translate(164 973) rotate(0) scale(1 1)" fill="none" stroke="#111417" stroke-width="1.1" stroke-linejoin="miter"/>
<path d="M0 0.5 H4.5 V3.5 H0.5 V2 H2.5" transform="translate(186 975.5) rotate(0) scale(1 1)" fill="none" stroke="#9aa3ac" stroke-opacity="0.45" stroke-width="2.6" stroke-linejoin="miter"/>
<path d="M0 0.5 H4.5 V3.5 H0.5 V2 H2.5" transform="translate(186 975.5) rotate(0) scale(1 1)" fill="none" stroke="#111417" stroke-width="1.1" stroke-linejoin="miter"/>
<path d="M0 0.5 H4.5 V3.5 H0.5 V2 H2.5" transform="translate(228 973) rotate(0) scale(1 1)" fill="none" stroke="#9aa3ac" stroke-opacity="0.45" stroke-width="2.6" stroke-linejoin="miter"/>
<path d="M0 0.5 H4.5 V3.5 H0.5 V2 H2.5" transform="translate(228 973) rotate(0) scale(1 1)" fill="none" stroke="#111417" stroke-width="1.1" stroke-linejoin="miter"/>
<path d="M0 0.5 H4.5 V3.5 H0.5 V2 H2.5" transform="translate(249 975.5) rotate(0) scale(1 1)" fill="none" stroke="#9aa3ac" stroke-opacity="0.45" stroke-width="2.6" stroke-linejoin="miter"/>
<path d="M0 0.5 H4.5 V3.5 H0.5 V2 H2.5" transform="translate(249 975.5) rotate(0) scale(1 1)" fill="none" stroke="#111417" stroke-width="1.1" stroke-linejoin="miter"/>
<path d="M0 0.5 H4.5 V3.5 H0.5 V2 H2.5" transform="translate(1670 974) rotate(0) scale(1 1)" fill="none" stroke="#9aa3ac" stroke-opacity="0.45" stroke-width="2.6" stroke-linejoin="miter"/>
<path d="M0 0.5 H4.5 V3.5 H0.5 V2 H2.5" transform="translate(1670 974) rotate(0) scale(1 1)" fill="none" stroke="#111417" stroke-width="1.1" stroke-linejoin="miter"/>
<path d="M0 0.5 H4.5 V3.5 H0.5 V2 H2.5" transform="translate(1777 974.5) rotate(0) scale(1 1)" fill="none" stroke="#9aa3ac" stroke-opacity="0.45" stroke-width="2.6" stroke-linejoin="miter"/>
<path d="M0 0.5 H4.5 V3.5 H0.5 V2 H2.5" transform="translate(1777 974.5) rotate(0) scale(1 1)" fill="none" stroke="#111417" stroke-width="1.1" stroke-linejoin="miter"/>
<path d="M1737 969 H1747 M1742 969 V978 M1739 969 V972" fill="none" stroke="#111417" stroke-width="1.1"/>
<rect x="192" y="208" width="66" height="66" fill="#000" />
<rect x="193" y="209" width="64" height="62" fill="#c2ccd2" />
<rect x="194" y="210" width="62" height="60" fill="#97a6ad" />
<rect x="192" y="272" width="66" height="66" fill="#000" />
<rect x="193" y="273" width="64" height="62" fill="#c2ccd2" />
<rect x="194" y="274" width="62" height="60" fill="#97a6ad" />
<rect x="192" y="336" width="66" height="66" fill="#000" />
<rect x="193" y="337" width="64" height="62" fill="#c2ccd2" />
<rect x="194" y="338" width="62" height="60" fill="#97a6ad" />
<rect x="192" y="400" width="66" height="66" fill="#000" />
<rect x="193" y="401" width="64" height="62" fill="#c2ccd2" />
<rect x="194" y="402" width="62" height="60" fill="#97a6ad" />
<rect x="192" y="464" width="66" height="66" fill="#000" />
<rect x="193" y="465" width="64" height="62" fill="#c2ccd2" />
<rect x="194" y="466" width="62" height="60" fill="#97a6ad" />
<rect x="192" y="528" width="66" height="66" fill="#000" />
<rect x="193" y="529" width="64" height="62" fill="#c2ccd2" />
<rect x="194" y="530" width="62" height="60" fill="#97a6ad" />
<rect x="192" y="592" width="66" height="66" fill="#000" />
<rect x="193" y="593" width="64" height="62" fill="#c2ccd2" />
<rect x="194" y="594" width="62" height="60" fill="#97a6ad" />
<rect x="192" y="656" width="66" height="66" fill="#000" />
<rect x="193" y="657" width="64" height="62" fill="#c2ccd2" />
<rect x="194" y="658" width="62" height="60" fill="#97a6ad" />
<rect x="192" y="720" width="66" height="66" fill="#000" />
<rect x="193" y="721" width="64" height="62" fill="#c2ccd2" />
<rect x="194" y="722" width="62" height="60" fill="#97a6ad" />
<rect x="192" y="784" width="66" height="66" fill="#000" />
<rect x="193" y="785" width="64" height="62" fill="#c2ccd2" />
<rect x="194" y="786" width="62" height="60" fill="#97a6ad" />
<defs><linearGradient id="g192" x1="0" y1="0" x2="0" y2="1"><stop offset="0" stop-color="#565b61"/><stop offset="1" stop-color="#2c3035"/></linearGradient></defs>
<rect x="192" y="848" width="66" height="32" fill="#000" />
<rect x="193" y="849" width="64" height="30" fill="url(#g192)" />
<rect x="1662" y="208" width="66" height="66" fill="#000" />
<rect x="1663" y="209" width="64" height="62" fill="#c2ccd2" />
<rect x="1664" y="210" width="62" height="60" fill="#97a6ad" />
<rect x="1662" y="272" width="66" height="66" fill="#000" />
<rect x="1663" y="273" width="64" height="62" fill="#c2ccd2" />
<rect x="1664" y="274" width="62" height="60" fill="#97a6ad" />
<rect x="1662" y="336" width="66" height="66" fill="#000" />
<rect x="1663" y="337" width="64" height="62" fill="#c2ccd2" />
<rect x="1664" y="338" width="62" height="60" fill="#97a6ad" />
<rect x="1662" y="400" width="66" height="66" fill="#000" />
<rect x="1663" y="401" width="64" height="62" fill="#c2ccd2" />
<rect x="1664" y="402" width="62" height="60" fill="#97a6ad" />
<rect x="1662" y="464" width="66" height="66" fill="#000" />
<rect x="1663" y="465" width="64" height="62" fill="#c2ccd2" />
<rect x="1664" y="466" width="62" height="60" fill="#97a6ad" />
<rect x="1662" y="528" width="66" height="66" fill="#000" />
<rect x="1663" y="529" width="64" height="62" fill="#c2ccd2" />
<rect x="1664" y="530" width="62" height="60" fill="#97a6ad" />
<rect x="1662" y="592" width="66" height="66" fill="#000" />
<rect x="1663" y="593" width="64" height="62" fill="#c2ccd2" />
<rect x="1664" y="594" width="62" height="60" fill="#97a6ad" />
<rect x="1662" y="656" width="66" height="66" fill="#000" />
<rect x="1663" y="657" width="64" height="62" fill="#c2ccd2" />
<rect x="1664" y="658" width="62" height="60" fill="#97a6ad" />
<rect x="1662" y="720" width="66" height="66" fill="#000" />
<rect x="1663" y="721" width="64" height="62" fill="#c2ccd2" />
<rect x="1664" y="722" width="62" height="60" fill="#97a6ad" />
<rect x="1662" y="784" width="66" height="66" fill="#000" />
<rect x="1663" y="785" width="64" height="62" fill="#c2ccd2" />
<rect x="1664" y="786" width="62" height="60" fill="#97a6ad" />
<defs><linearGradient id="g1662" x1="0" y1="0" x2="0" y2="1"><stop offset="0" stop-color="#565b61"/><stop offset="1" stop-color="#2c3035"/></linearGradient></defs>
<rect x="1662" y="848" width="66" height="32" fill="#000" />
<rect x="1663" y="849" width="64" height="30" fill="url(#g1662)" />
<circle cx="224" cy="240" r="5" fill="#000"/>
<path d="M1703 223 L1686 240 L1703 257" fill="none" stroke="#c8d0d6" stroke-opacity="0.4" stroke-width="6.6" stroke-linecap="round" stroke-linejoin="miter"/>
<path d="M1703 223 L1686 240 L1703 257" fill="none" stroke="#000" stroke-width="4.6" stroke-linecap="round" stroke-linejoin="miter"/>
<text x="35.98" y="1041.6" font-family="'DejaVu Serif Condensed','DejaVu Serif','Liberation Serif',serif" font-size="36" fill="#fff" textLength="95.43" lengthAdjust="spacingAndGlyphs" stroke="#fff" stroke-width="0.9" filter="url(#ol)">Mem:</text>
<path d="M161.5 1014 V1006.5 H317 V1014" fill="none" stroke="#a6c514" stroke-width="5" stroke-linecap="round" stroke-linejoin="round"/>
<path d="M161.5 1049 V1057 H316.5 V1049" fill="none" stroke="#e4ee88" stroke-width="5" stroke-linecap="round" stroke-linejoin="round"/>
<text x="288.24" y="1047.6" font-family="'Liberation Mono','DejaVu Sans Mono',monospace" font-size="46" fill="#a8ee7c" textLength="25.41" lengthAdjust="spacingAndGlyphs" stroke="#a8ee7c" stroke-width="1.1" filter="url(#ol)">0</text>
<text x="423.4" y="1047.8" font-family="'Liberation Mono','DejaVu Sans Mono',monospace" font-size="46" fill="#a8ee7c" textLength="49.7" lengthAdjust="spacingAndGlyphs" stroke="#a8ee7c" stroke-width="1.1" filter="url(#ol)">30</text>
<rect x="812" y="1012" width="40" height="40" fill="#000" />
<rect x="813" y="1013" width="38" height="38" fill="#c3c8cc" />
<rect x="814" y="1014" width="36" height="36" fill="#7b838b" />
<rect x="852" y="1012" width="40" height="40" fill="#000" />
<rect x="853" y="1013" width="38" height="38" fill="#c3c8cc" />
<rect x="854" y="1014" width="36" height="36" fill="#7b838b" />
<path d="M836.8 1021.1 H824.3 Q821.3 1021.1 821.3 1024.1 V1029.2 H818.1 L822.9 1034 L827.9 1029.2 H825.1 V1024.8 H836.8 Z" fill="#ececec" stroke="#4a5058" stroke-width="0.6"/>
<path d="M827.2 1042.7 H839.9 Q842.9 1042.7 842.9 1039.7 V1034.6 H845.9 L841.3 1030 L836.1 1034.6 H839.4 V1039.2 H827.2 Z" fill="#ececec" stroke="#4a5058" stroke-width="0.6"/>
<rect x="860" y="1024.1" width="10" height="3.7" fill="#efefef" stroke="#50565c" stroke-width="0.5"/>
<rect x="874" y="1024.1" width="10" height="3.7" fill="#efefef" stroke="#50565c" stroke-width="0.5"/>
<rect x="860" y="1030.2" width="10" height="3.7" fill="#efefef" stroke="#50565c" stroke-width="0.5"/>
<rect x="874" y="1030.2" width="10" height="3.7" fill="#efefef" stroke="#50565c" stroke-width="0.5"/>
<rect x="860" y="1036.1" width="10" height="3.7" fill="#efefef" stroke="#50565c" stroke-width="0.5"/>
<rect x="874" y="1036.1" width="10" height="3.7" fill="#efefef" stroke="#50565c" stroke-width="0.5"/>
<text x="973.2" y="1035" font-family="'DejaVu Serif Condensed','DejaVu Serif','Liberation Serif',serif" font-size="24" fill="#fff" textLength="48.82" lengthAdjust="spacingAndGlyphs" stroke="#fff" stroke-width="0.1" filter="url(#ol)">Exp:</text>
<text x="1035.8" y="1051.5" font-family="'Liberation Mono','DejaVu Sans Mono',monospace" font-size="42" font-weight="bold" fill="#fff" letter-spacing="-7.22" filter="url(#ol)">******</text>
<text x="1224.75" y="1039" font-family="'Liberation Mono','DejaVu Sans Mono',monospace" font-size="32.4" fill="#fff" textLength="37.89" lengthAdjust="spacingAndGlyphs" stroke="#fff" stroke-width="0.9" filter="url(#ol)">30</text>
<text x="1598.51" y="1041.3" font-family="'DejaVu Serif Condensed','DejaVu Serif','Liberation Serif',serif" font-size="36" fill="#fff" textLength="117.53" lengthAdjust="spacingAndGlyphs" stroke="#fff" stroke-width="0.9" filter="url(#ol)">Cycles:</text>
<text x="1808.69" y="1047.8" font-family="'Liberation Mono','DejaVu Sans Mono',monospace" font-size="47" fill="#fff" textLength="73.52" lengthAdjust="spacingAndGlyphs" stroke="#fff" stroke-width="1.1" filter="url(#ol)">114</text>
<rect x="256" y="66" width="1408" height="947" fill="#1b1f24" />
<rect x="257" y="67" width="1406" height="945" fill="#000" />
<rect x="259" y="69" width="1402" height="941" fill="#7b868e" />
<rect x="260" y="70" width="1400" height="939" fill="#55626b" />
<text x="302.77" y="138.75" font-family="'DejaVu Serif Condensed','DejaVu Serif','Liberation Serif',serif" font-size="24" fill="#fff" textLength="713.75" lengthAdjust="spacingAndGlyphs" stroke="#fff" stroke-width="0.1" filter="url(#ol)">Congrats, one test passed and more will be run in the background</text>
<rect x="1104.75" y="918.75" width="190.5" height="46.5" rx="3" fill="#262b30" stroke="#000" stroke-width="1.5"/>
<rect x="1106.5" y="920.5" width="187" height="43" rx="1" fill="none" stroke="#ffffff" stroke-opacity="0.06" stroke-width="1"/>
<text x="1140.76" y="950.1" font-family="'DejaVu Serif Condensed','DejaVu Serif','Liberation Serif',serif" font-size="21" fill="#9c9c9c" textLength="115.77" lengthAdjust="spacingAndGlyphs" stroke="#9c9c9c" stroke-width="0.1" filter="url(#ol)">Fetch &amp; Post</text>
<rect x="1312.75" y="918.75" width="190.5" height="46.5" rx="3" fill="#3e4750" stroke="#000" stroke-width="1.5"/>
<rect x="1314.5" y="920.5" width="187" height="43" rx="1" fill="none" stroke="#ffffff" stroke-opacity="0.06" stroke-width="1"/>
<text x="1352.36" y="949.9" font-family="'DejaVu Serif Condensed','DejaVu Serif','Liberation Serif',serif" font-size="21" fill="#fff" textLength="110.16" lengthAdjust="spacingAndGlyphs" stroke="#fff" stroke-width="0.1" filter="url(#ol)">Select Level</text>
<rect x="1520.75" y="918.75" width="94.5" height="46.5" rx="3" fill="#3e4750" stroke="#000" stroke-width="1.5"/>
<rect x="1522.5" y="920.5" width="91" height="43" rx="1" fill="none" stroke="#ffffff" stroke-opacity="0.06" stroke-width="1"/>
<text x="1541.32" y="949.9" font-family="'DejaVu Serif Condensed','DejaVu Serif','Liberation Serif',serif" font-size="21" fill="#fff" textLength="51.92" lengthAdjust="spacingAndGlyphs" stroke="#fff" stroke-width="0.1" filter="url(#ol)">Close</text>
<rect x="223" y="185" width="1474" height="710" fill="#6b7480" />
<rect x="224" y="186" width="1472" height="708" fill="#1b1f24" />
<rect x="225" y="187" width="1470" height="706" fill="#000" />
<rect x="227" y="189" width="1466" height="702" fill="#7b868e" />
<rect x="228" y="190" width="1464" height="700" fill="#55626b" />
<text x="270.81" y="258.7" font-family="'DejaVu Serif Condensed','DejaVu Serif','Liberation Serif',serif" font-size="24" fill="#fff" textLength="70.56" lengthAdjust="spacingAndGlyphs" stroke="#fff" stroke-width="0.1" filter="url(#ol)">Cycles</text>
<text x="273.1" y="331" font-family="'DejaVu Serif Condensed','DejaVu Serif','Liberation Serif',serif" font-size="24" fill="#fff" textLength="202.63" lengthAdjust="spacingAndGlyphs" stroke="#fff" stroke-width="0.1" filter="url(#ol)">This solution: 2505</text>
<text x="272.6" y="366.3" font-family="'DejaVu Serif Condensed','DejaVu Serif','Liberation Serif',serif" font-size="24" fill="#fff" textLength="250.02" lengthAdjust="spacingAndGlyphs" stroke="#fff" stroke-width="0.1" filter="url(#ol)">Your previous best: 782</text>
<text x="270.68" y="767" font-family="'DejaVu Serif Condensed','DejaVu Serif','Liberation Serif',serif" font-size="24" fill="#fff" textLength="153.52" lengthAdjust="spacingAndGlyphs" stroke="#fff" stroke-width="0.1" filter="url(#ol)">Global 1st: 782</text>
<text x="270.64" y="802.6" font-family="'DejaVu Serif Condensed','DejaVu Serif','Liberation Serif',serif" font-size="24" fill="#fff" textLength="167.29" lengthAdjust="spacingAndGlyphs" stroke="#fff" stroke-width="0.1" filter="url(#ol)">Global 2nd: 782</text>
<text x="270.65" y="838.3" font-family="'DejaVu Serif Condensed','DejaVu Serif','Liberation Serif',serif" font-size="24" fill="#fff" textLength="161.56" lengthAdjust="spacingAndGlyphs" stroke="#fff" stroke-width="0.1" filter="url(#ol)">Global 3rd: 782</text>
<rect x="308.5" y="410.30" width="31" height="255.70" fill="#23879f" stroke="#0b4b62" stroke-width="1.3"/>
<rect x="340.5" y="506.19" width="31" height="159.81" fill="#23879f" stroke="#0b4b62" stroke-width="1.3"/>
<rect x="372.5" y="538.15" width="31" height="127.85" fill="#23879f" stroke="#0b4b62" stroke-width="1.3"/>
<rect x="404.5" y="410.30" width="31" height="255.70" fill="#23879f" stroke="#0b4b62" stroke-width="1.3"/>
<rect x="436.5" y="506.19" width="31" height="159.81" fill="#23879f" stroke="#0b4b62" stroke-width="1.3"/>
<rect x="468.5" y="602.08" width="31" height="63.92" fill="#23879f" stroke="#0b4b62" stroke-width="1.3"/>
<line x1="325" y1="409.7" x2="325" y2="665" stroke="#cc1f1a" stroke-width="2"/>
<line x1="433" y1="409.7" x2="433" y2="665" stroke="#fff" stroke-width="2"/>
<line x1="276" y1="666" x2="596" y2="666" stroke="#14191d" stroke-width="4"/>
<line x1="276" y1="666" x2="596" y2="666" stroke="#fff" stroke-width="2"/>
<circle cx="308" cy="666" r="1.8" fill="#fff"/>
<circle cx="340" cy="666" r="1.8" fill="#fff"/>
<circle cx="372" cy="666" r="1.8" fill="#fff"/>
<circle cx="404" cy="666" r="1.8" fill="#fff"/>
<circle cx="436" cy="666" r="1.8" fill="#fff"/>
<circle cx="468" cy="666" r="1.8" fill="#fff"/>
<circle cx="500" cy="666" r="1.8" fill="#fff"/>
<circle cx="532" cy="666" r="1.8" fill="#fff"/>
<circle cx="564" cy="666" r="1.8" fill="#fff"/>
<rect x="274.5" y="662" width="3" height="8.5" fill="#fff" stroke="#14191d" stroke-width="0.6"/>
<rect x="594.5" y="662" width="3" height="8.5" fill="#fff" stroke="#14191d" stroke-width="0.6"/>
<text x="270.73" y="707" font-family="'DejaVu Serif Condensed','DejaVu Serif','Liberation Serif',serif" font-size="24" fill="#fff" textLength="13.28" lengthAdjust="spacingAndGlyphs" stroke="#fff" stroke-width="0.1" filter="url(#ol)">0</text>
<text x="409.54" y="707" font-family="'DejaVu Serif Condensed','DejaVu Serif','Liberation Serif',serif" font-size="24" fill="#fff" textLength="52.97" lengthAdjust="spacingAndGlyphs" stroke="#fff" stroke-width="0.1" filter="url(#ol)">2560</text>
<text x="572.52" y="707" font-family="'DejaVu Serif Condensed','DejaVu Serif','Liberation Serif',serif" font-size="24" fill="#fff" textLength="48.92" lengthAdjust="spacingAndGlyphs" stroke="#fff" stroke-width="0.1" filter="url(#ol)">5120</text>
<text x="719.22" y="258.7" font-family="'DejaVu Serif Condensed','DejaVu Serif','Liberation Serif',serif" font-size="24" fill="#fff" textLength="65.8" lengthAdjust="spacingAndGlyphs" stroke="#fff" stroke-width="0.1" filter="url(#ol)">Plates</text>
<text x="720.8" y="331" font-family="'DejaVu Serif Condensed','DejaVu Serif','Liberation Serif',serif" font-size="24" fill="#fff" textLength="174.72" lengthAdjust="spacingAndGlyphs" stroke="#fff" stroke-width="0.1" filter="url(#ol)">This solution: 12</text>
<text x="720.8" y="366.3" font-family="'DejaVu Serif Condensed','DejaVu Serif','Liberation Serif',serif" font-size="24" fill="#fff" textLength="233.55" lengthAdjust="spacingAndGlyphs" stroke="#fff" stroke-width="0.1" filter="url(#ol)">Your previous best: 12</text>
<text x="718.81" y="767" font-family="'DejaVu Serif Condensed','DejaVu Serif','Liberation Serif',serif" font-size="24" fill="#fff" textLength="136.29" lengthAdjust="spacingAndGlyphs" stroke="#fff" stroke-width="0.1" filter="url(#ol)">Global 1st: 12</text>
<text x="718.77" y="802.6" font-family="'DejaVu Serif Condensed','DejaVu Serif','Liberation Serif',serif" font-size="24" fill="#fff" textLength="150.18" lengthAdjust="spacingAndGlyphs" stroke="#fff" stroke-width="0.1" filter="url(#ol)">Global 2nd: 12</text>
<text x="718.78" y="838.3" font-family="'DejaVu Serif Condensed','DejaVu Serif','Liberation Serif',serif" font-size="24" fill="#fff" textLength="144.94" lengthAdjust="spacingAndGlyphs" stroke="#fff" stroke-width="0.1" filter="url(#ol)">Global 3rd: 12</text>
<rect x="820.5" y="410.30" width="31" height="255.70" fill="#23879f" stroke="#0b4b62" stroke-width="1.3"/>
<rect x="852.5" y="452.92" width="31" height="213.08" fill="#23879f" stroke="#0b4b62" stroke-width="1.3"/>
<rect x="884.5" y="623.38" width="31" height="42.62" fill="#23879f" stroke="#0b4b62" stroke-width="1.3"/>
<rect x="916.5" y="580.77" width="31" height="85.23" fill="#23879f" stroke="#0b4b62" stroke-width="1.3"/>
<rect x="948.5" y="580.77" width="31" height="85.23" fill="#23879f" stroke="#0b4b62" stroke-width="1.3"/>
<line x1="820" y1="409.7" x2="820" y2="665" stroke="#fff" stroke-width="2"/>
<line x1="724" y1="666" x2="1044" y2="666" stroke="#14191d" stroke-width="4"/>
<line x1="724" y1="666" x2="1044" y2="666" stroke="#fff" stroke-width="2"/>
<circle cx="756" cy="666" r="1.8" fill="#fff"/>
<circle cx="788" cy="666" r="1.8" fill="#fff"/>
<circle cx="820" cy="666" r="1.8" fill="#fff"/>
<circle cx="852" cy="666" r="1.8" fill="#fff"/>
<circle cx="884" cy="666" r="1.8" fill="#fff"/>
<circle cx="916" cy="666" r="1.8" fill="#fff"/>
<circle cx="948" cy="666" r="1.8" fill="#fff"/>
<circle cx="980" cy="666" r="1.8" fill="#fff"/>
<circle cx="1012" cy="666" r="1.8" fill="#fff"/>
<rect x="722.5" y="662" width="3" height="8.5" fill="#fff" stroke="#14191d" stroke-width="0.6"/>
<rect x="1042.5" y="662" width="3" height="8.5" fill="#fff" stroke="#14191d" stroke-width="0.6"/>
<text x="718.6" y="707" font-family="'DejaVu Serif Condensed','DejaVu Serif','Liberation Serif',serif" font-size="24" fill="#fff" textLength="13.73" lengthAdjust="spacingAndGlyphs" stroke="#fff" stroke-width="0.1" filter="url(#ol)">0</text>
<text x="870.47" y="707" font-family="'DejaVu Serif Condensed','DejaVu Serif','Liberation Serif',serif" font-size="24" fill="#fff" textLength="28.35" lengthAdjust="spacingAndGlyphs" stroke="#fff" stroke-width="0.1" filter="url(#ol)">20</text>
<text x="1030.76" y="707" font-family="'DejaVu Serif Condensed','DejaVu Serif','Liberation Serif',serif" font-size="24" fill="#fff" textLength="28.68" lengthAdjust="spacingAndGlyphs" stroke="#fff" stroke-width="0.1" filter="url(#ol)">40</text>
<text x="1168.1" y="258.7" font-family="'DejaVu Serif Condensed','DejaVu Serif','Liberation Serif',serif" font-size="24" fill="#fff" textLength="49.94" lengthAdjust="spacingAndGlyphs" stroke="#fff" stroke-width="0.1" filter="url(#ol)">Area</text>
<text x="1169.5" y="331" font-family="'DejaVu Serif Condensed','DejaVu Serif','Liberation Serif',serif" font-size="24" fill="#fff" textLength="176.37" lengthAdjust="spacingAndGlyphs" stroke="#fff" stroke-width="0.1" filter="url(#ol)">This solution: 23</text>
<text x="1169.5" y="366.3" font-family="'DejaVu Serif Condensed','DejaVu Serif','Liberation Serif',serif" font-size="24" fill="#fff" textLength="231.89" lengthAdjust="spacingAndGlyphs" stroke="#fff" stroke-width="0.1" filter="url(#ol)">Your previous best: 13</text>
<text x="1166.71" y="767" font-family="'DejaVu Serif Condensed','DejaVu Serif','Liberation Serif',serif" font-size="24" fill="#fff" textLength="135.88" lengthAdjust="spacingAndGlyphs" stroke="#fff" stroke-width="0.1" filter="url(#ol)">Global 1st: 13</text>
<text x="1166.64" y="802.6" font-family="'DejaVu Serif Condensed','DejaVu Serif','Liberation Serif',serif" font-size="24" fill="#fff" textLength="153.89" lengthAdjust="spacingAndGlyphs" stroke="#fff" stroke-width="0.1" filter="url(#ol)">Global 2nd: 20</text>
<text x="1166.65" y="838.3" font-family="'DejaVu Serif Condensed','DejaVu Serif','Liberation Serif',serif" font-size="24" fill="#fff" textLength="148.67" lengthAdjust="spacingAndGlyphs" stroke="#fff" stroke-width="0.1" filter="url(#ol)">Global 3rd: 20</text>
<rect x="1172.5" y="410.30" width="31" height="255.70" fill="#23879f" stroke="#0b4b62" stroke-width="1.3"/>
<rect x="1204.5" y="644.69" width="31" height="21.31" fill="#23879f" stroke="#0b4b62" stroke-width="1.3"/>
<rect x="1236.5" y="474.23" width="31" height="191.78" fill="#23879f" stroke="#0b4b62" stroke-width="1.3"/>
<rect x="1268.5" y="644.69" width="31" height="21.31" fill="#23879f" stroke="#0b4b62" stroke-width="1.3"/>
<rect x="1300.5" y="580.77" width="31" height="85.23" fill="#23879f" stroke="#0b4b62" stroke-width="1.3"/>
<rect x="1332.5" y="623.38" width="31" height="42.62" fill="#23879f" stroke="#0b4b62" stroke-width="1.3"/>
<rect x="1364.5" y="644.69" width="31" height="21.31" fill="#23879f" stroke="#0b4b62" stroke-width="1.3"/>
<rect x="1396.5" y="644.69" width="31" height="21.31" fill="#23879f" stroke="#0b4b62" stroke-width="1.3"/>
<rect x="1428.5" y="644.69" width="31" height="21.31" fill="#23879f" stroke="#0b4b62" stroke-width="1.3"/>
<line x1="1189" y1="409.7" x2="1189" y2="665" stroke="#cc1f1a" stroke-width="2"/>
<line x1="1203" y1="409.7" x2="1203" y2="665" stroke="#fff" stroke-width="2"/>
<line x1="1172" y1="666" x2="1492" y2="666" stroke="#14191d" stroke-width="4"/>
<line x1="1172" y1="666" x2="1492" y2="666" stroke="#fff" stroke-width="2"/>
<circle cx="1204" cy="666" r="1.8" fill="#fff"/>
<circle cx="1236" cy="666" r="1.8" fill="#fff"/>
<circle cx="1268" cy="666" r="1.8" fill="#fff"/>
<circle cx="1300" cy="666" r="1.8" fill="#fff"/>
<circle cx="1332" cy="666" r="1.8" fill="#fff"/>
<circle cx="1364" cy="666" r="1.8" fill="#fff"/>
<circle cx="1396" cy="666" r="1.8" fill="#fff"/>
<circle cx="1428" cy="666" r="1.8" fill="#fff"/>
<circle cx="1460" cy="666" r="1.8" fill="#fff"/>
<rect x="1170.5" y="662" width="3" height="8.5" fill="#fff" stroke="#14191d" stroke-width="0.6"/>
<rect x="1490.5" y="662" width="3" height="8.5" fill="#fff" stroke="#14191d" stroke-width="0.6"/>
<text x="1166.3" y="707" font-family="'DejaVu Serif Condensed','DejaVu Serif','Liberation Serif',serif" font-size="24" fill="#fff" textLength="13.73" lengthAdjust="spacingAndGlyphs" stroke="#fff" stroke-width="0.1" filter="url(#ol)">0</text>
<text x="1313.29" y="707" font-family="'DejaVu Serif Condensed','DejaVu Serif','Liberation Serif',serif" font-size="24" fill="#fff" textLength="38.64" lengthAdjust="spacingAndGlyphs" stroke="#fff" stroke-width="0.1" filter="url(#ol)">120</text>
<text x="1471.19" y="707" font-family="'DejaVu Serif Condensed','DejaVu Serif','Liberation Serif',serif" font-size="24" fill="#fff" textLength="41.73" lengthAdjust="spacingAndGlyphs" stroke="#fff" stroke-width="0.1" filter="url(#ol)">240</text>
<path d="M488 330 L496 314 L504 330 Z" fill="#e8605a"/>
<path d="M1358 330 L1366 314 L1374 330 Z" fill="#e8605a"/>
<rect x="910.5" y="319.8" width="14.8" height="5" rx="0.8" fill="#fff"/>
<rect x="1552.75" y="798.75" width="94.5" height="46.5" rx="3" fill="#3e4750" stroke="#000" stroke-width="1.5"/>
<rect x="1554.5" y="800.5" width="91" height="43" rx="1" fill="none" stroke="#ffffff" stroke-opacity="0.06" stroke-width="1"/>
<text x="1574.03" y="830" font-family="'DejaVu Serif Condensed','DejaVu Serif','Liberation Serif',serif" font-size="21" fill="#fff" textLength="51.1" lengthAdjust="spacingAndGlyphs" stroke="#fff" stroke-width="0.1" filter="url(#ol)">Close</text>
</svg>
</body></html>
